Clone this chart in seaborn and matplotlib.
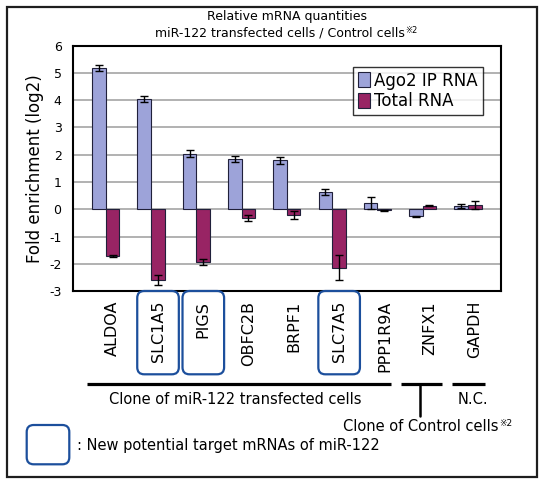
import numpy as np
import pandas as pd
import matplotlib
matplotlib.use("Agg")
import matplotlib.pyplot as plt
import seaborn as sns
from matplotlib import transforms
from matplotlib.lines import Line2D
from matplotlib.patches import FancyBboxPatch, Rectangle

# values (log2 fold enrichment)
genes = ["ALDOA", "SLC1A5", "PIGS", "OBFC2B", "BRPF1", "SLC7A5", "PPP1R9A", "ZNFX1", "GAPDH"]
ago2 = [5.17, 4.04, 2.03, 1.84, 1.79, 0.64, 0.22, -0.26, 0.12]
ago2_err = [0.12, 0.11, 0.13, 0.11, 0.12, 0.11, 0.22, 0.03, 0.09]
total = [-1.71, -2.59, -1.93, -0.31, -0.20, -2.14, -0.04, 0.13, 0.16]
total_err = [0.02, 0.17, 0.10, 0.10, 0.14, 0.45, 0.02, 0.02, 0.14]
series = ["Ago2 IP RNA", "Total RNA"]
boxed = ["SLC1A5", "PIGS", "SLC7A5"]

df = pd.DataFrame({
    "gene": genes * 2,
    "value": ago2 + total,
    "series": [series[0]] * len(genes) + [series[1]] * len(genes),
})

sns.set_theme(style="white")
plt.rcParams["font.family"] = ["DejaVu Sans", "Noto Sans CJK JP"]
plt.rcParams["axes.unicode_minus"] = False
for k in ["text.color", "axes.labelcolor", "xtick.color", "ytick.color"]:
    plt.rcParams[k] = "black"

fig = plt.figure(figsize=(5.45, 4.9), dpi=100)
ax = fig.add_axes([0.1334, 0.4057, 0.7859, 0.5014])

sns.barplot(data=df, x="gene", y="value", hue="series", palette=["#9da3d9", "#982464"],
            saturation=1, width=0.6, edgecolor="#20203a", linewidth=0.8, errorbar=None,
            ax=ax, zorder=2)

for cont, vals, errs in zip(ax.containers, [ago2, total], [ago2_err, total_err]):
    xs = [b.get_x() + b.get_width() / 2 for b in cont]
    ax.errorbar(xs, vals, yerr=errs, fmt="none", ecolor="black", elinewidth=1,
                capsize=3, capthick=1, zorder=3)

ax.set_ylim(-3, 6)
ax.set_yticks(range(-3, 7))
ax.set_xlabel("")
ax.set_ylabel("Fold enrichment (log2)", fontsize=12)
ax.yaxis.set_label_coords(-0.067, 0.5)
ax.tick_params(axis="y", length=0, pad=8, labelsize=9)
ax.tick_params(axis="x", length=0, pad=7, labelsize=11.5, labelrotation=90)
shift = transforms.ScaledTranslation(0.07, 0, fig.dpi_scale_trans)
for lab in ax.get_xticklabels():
    lab.set_transform(lab.get_transform() + shift)

ax.grid(axis="y", color="#9c9c9c", linewidth=1.1)
ax.grid(axis="x", visible=False)
ax.set_axisbelow(True)
for s in ax.spines.values():
    s.set_visible(True)
    s.set_color("black")
    s.set_linewidth(1.5)

leg = ax.legend(loc="upper right", bbox_to_anchor=(0.958, 0.914), frameon=True, fancybox=False,
                edgecolor="black", fontsize=12, handlelength=0.75, handleheight=1.0,
                handletextpad=0.25, borderpad=0.3, labelspacing=0.15, borderaxespad=0)
leg.get_frame().set_linewidth(1.0)

# titles
fig.text(0.5266, 0.9673, "Relative mRNA quantities", ha="center", va="center", fontsize=9)
t2 = fig.text(0.2839, 0.9333, "miR-122 transfected cells / Control cells", ha="left",
              va="center", fontsize=9)
ax.annotate("※2", xy=(1, 1), xycoords=t2, xytext=(0.5, 0), textcoords="offset points",
            ha="left", va="top", fontsize=6)

# blue rounded boxes around new target genes
H = fig.bbox.height
ident = transforms.IdentityTransform()
for g in boxed:
    cx = ax.transData.transform((genes.index(g), 0))[0] + 7
    fig.add_artist(FancyBboxPatch((cx - 20.8, H - 374.3), 41.6, 83.3,
                                  boxstyle="round,pad=0,rounding_size=7", transform=ident,
                                  fill=False, edgecolor="#1c4f9c", linewidth=1.6, clip_on=False))

# group brackets under the labels
blend = transforms.blended_transform_factory(ax.transData, fig.transFigure)
group_spans = [(-0.405, 6.3), (6.52, 7.42), (7.64, 8.38)]
for x0, x1 in group_spans:
    fig.add_artist(Line2D([x0, x1], [0.2157, 0.2157], transform=blend, color="black",
                          lw=2.3, solid_capstyle="butt"))
fig.add_artist(Line2D([6.95, 6.95], [0.2157, 0.1515], transform=blend, color="black", lw=1.8))

fig.text(2.87, 0.1857, "Clone of miR-122 transfected cells", transform=blend, ha="center",
         va="center", fontsize=10.5)
fig.text(8.12, 0.1857, "N.C.", transform=blend, ha="center", va="center", fontsize=10.5)
t3 = fig.text(0.629, 0.1292, "Clone of Control cells", ha="left", va="center", fontsize=10.5)
ax.annotate("※2", xy=(1, 1), xycoords=t3, xytext=(0.5, 0), textcoords="offset points",
            ha="left", va="top", fontsize=6.5)

# key for the boxes
fig.add_artist(FancyBboxPatch((26.7, H - 464.3), 42.6, 39.3, boxstyle="round,pad=0,rounding_size=7",
                              transform=ident, fill=False, edgecolor="#1c4f9c", linewidth=1.6))
fig.text(0.1418, 0.0918, ": New potential target mRNAs of miR-122", ha="left", va="center",
         fontsize=10.5)

# outer frame
fig.add_artist(Rectangle((0.0128, 0.0265), 0.9725, 0.9592, transform=fig.transFigure,
                         fill=False, edgecolor="#1e1e1e", lw=1.6))

fig.savefig("out.png", dpi=100)
